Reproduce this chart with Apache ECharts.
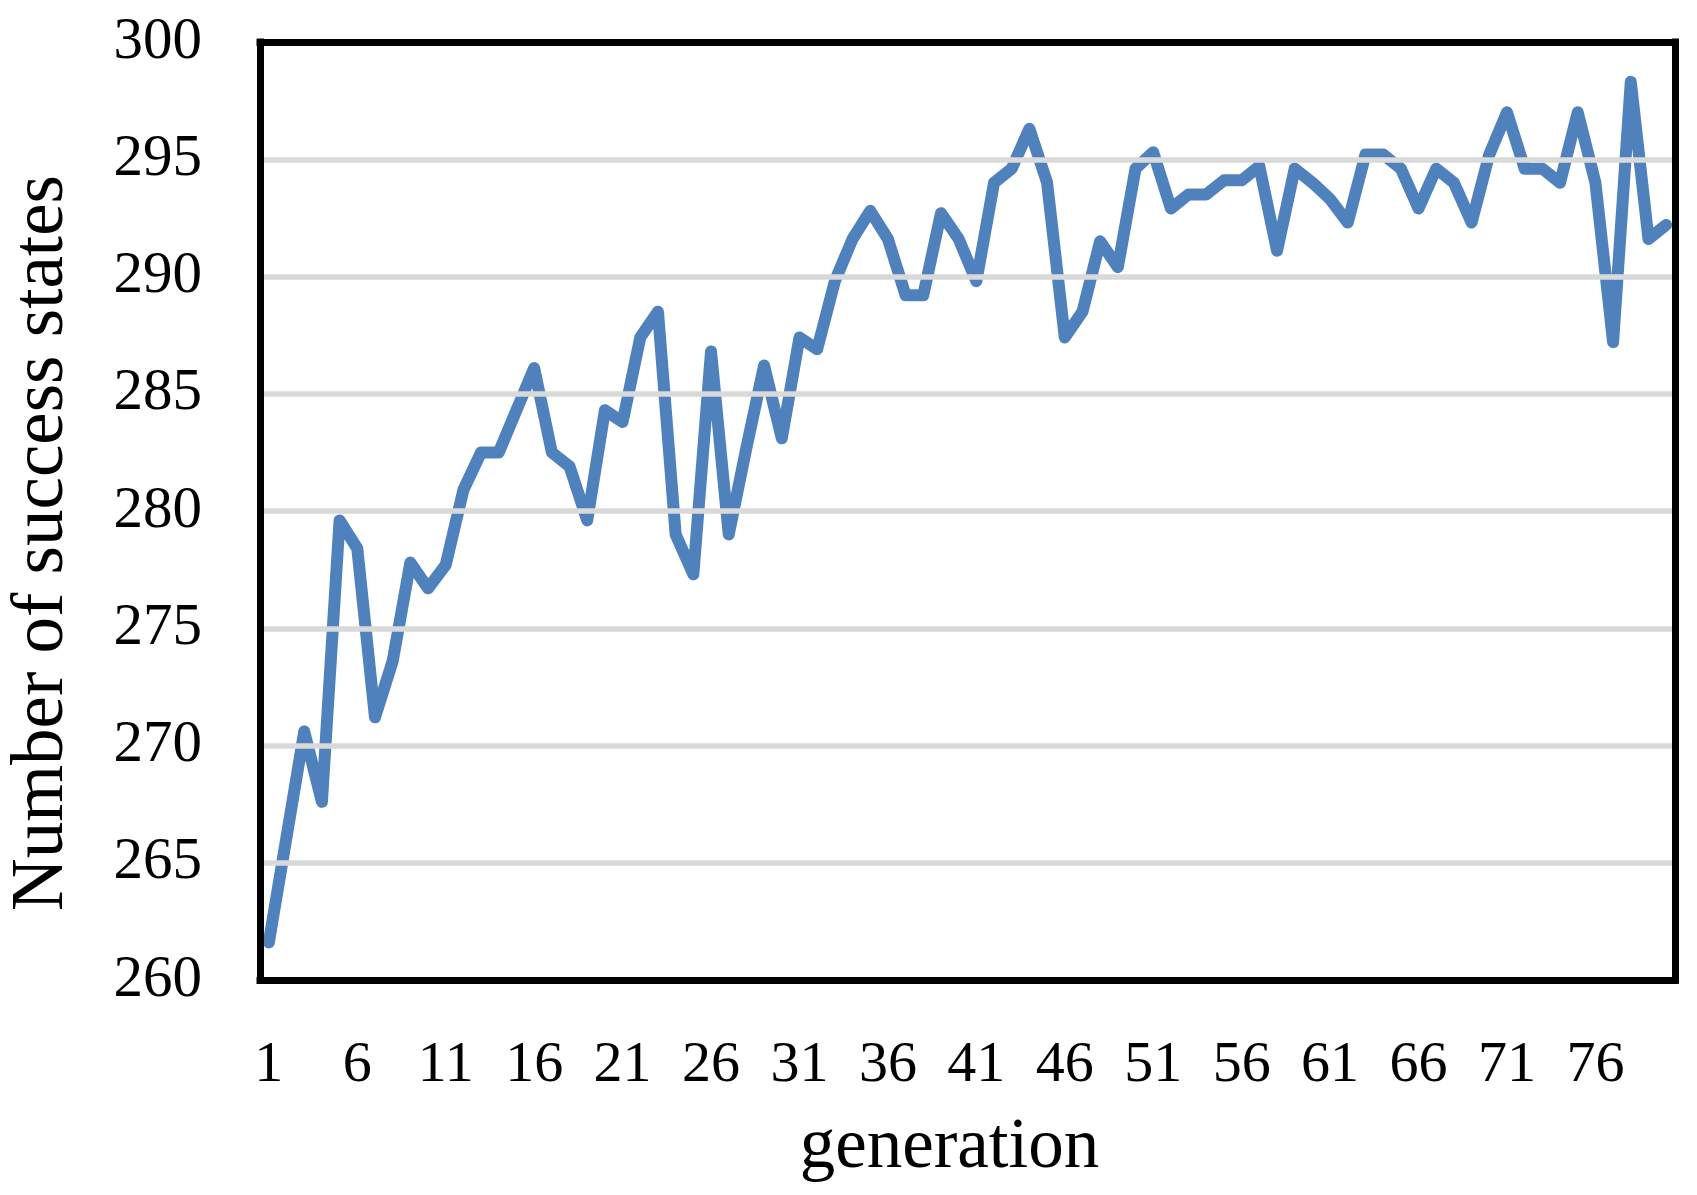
<!DOCTYPE html>
<html>
<head>
<meta charset="utf-8">
<script src="https://cdn.jsdelivr.net/npm/echarts@6/dist/echarts.min.js"></script>
<style>html,body{margin:0;padding:0;background:#fff;}#chart{width:1697px;height:1195px;}</style>
</head>
<body>
<div id="chart"></div>
<script>
const generations = Array.from({length: 80}, (_, i) => String(i + 1));
const successStates = [
  261.6, 266.1, 270.6, 267.6, 279.6, 278.4, 271.2, 273.6, 277.8, 276.7,
  277.7, 280.9, 282.5, 282.5, 284.3, 286.1, 282.5, 281.9, 279.6, 284.3,
  283.8, 287.4, 288.5, 279.0, 277.3, 286.8, 279.0, 282.7, 286.2, 283.1,
  287.4, 286.9, 289.8, 291.6, 292.8, 291.6, 289.2, 289.2, 292.7, 291.6,
  289.8, 294.0, 294.6, 296.3, 294.0, 287.4, 288.5, 291.5, 290.4, 294.6,
  295.3, 292.9, 293.5, 293.5, 294.1, 294.1, 294.7, 291.1, 294.6, 294.0,
  293.3, 292.3, 295.2, 295.2, 294.6, 292.9, 294.6, 294.0, 292.3, 295.2,
  297.0, 294.6, 294.6, 294.0, 297.0, 294.0, 287.2, 298.3, 291.6, 292.2
];
const yMin = 260, yMax = 300, yStep = 5;
const xTitle = 'generation';
const yTitle = 'Number of success states';

const chart = echarts.init(document.getElementById('chart'), null, {renderer: 'canvas'});
const font = '"Liberation Serif", "DejaVu Serif", serif';
const frame = {show: true, onZero: false, lineStyle: {color: '#000000', width: 7, cap: 'square'}};
chart.setOption({
  animation: false,
  backgroundColor: '#ffffff',
  grid: {left: 260, top: 42, width: 1415, height: 938, containLabel: false, outerBoundsMode: 'none'},
  xAxis: [{
    type: 'category',
    data: generations,
    boundaryGap: true,
    position: 'bottom',
    axisLine: frame,
    axisTick: {show: false},
    axisLabel: {interval: 4, margin: 57, color: '#000', fontFamily: font, fontSize: 58},
    name: xTitle,
    nameLocation: 'middle',
    nameGap: 133,
    nameTextStyle: {color: '#000', fontFamily: font, fontSize: 71, padding: [0, 36, 0, 0]},
    z: 5
  }, {
    type: 'category',
    data: generations,
    position: 'top',
    axisLine: frame,
    axisTick: {show: false},
    axisLabel: {show: false},
    z: 5
  }],
  yAxis: [{
    type: 'value',
    min: yMin, max: yMax, interval: yStep,
    position: 'left',
    axisLine: frame,
    axisTick: {show: false},
    axisLabel: {margin: 58, color: '#000', fontFamily: font, fontSize: 59},
    splitLine: {show: true, lineStyle: {color: '#D9D9D9', width: 5.5}},
    name: yTitle,
    nameLocation: 'middle',
    nameGap: 181,
    nameTextStyle: {color: '#000', fontFamily: font, fontSize: 73, padding: [0, 64, 0, 0]},
    z: 5
  }, {
    type: 'value',
    min: yMin, max: yMax, interval: yStep,
    position: 'right',
    axisLine: frame,
    axisTick: {show: false},
    axisLabel: {show: false},
    splitLine: {show: false},
    z: 5
  }],
  series: [{
    type: 'line',
    data: successStates,
    symbol: 'none',
    lineStyle: {color: '#4F81BD', width: 12, cap: 'round', join: 'round'},
    z: 3
  }]
});
</script>
</body>
</html>
